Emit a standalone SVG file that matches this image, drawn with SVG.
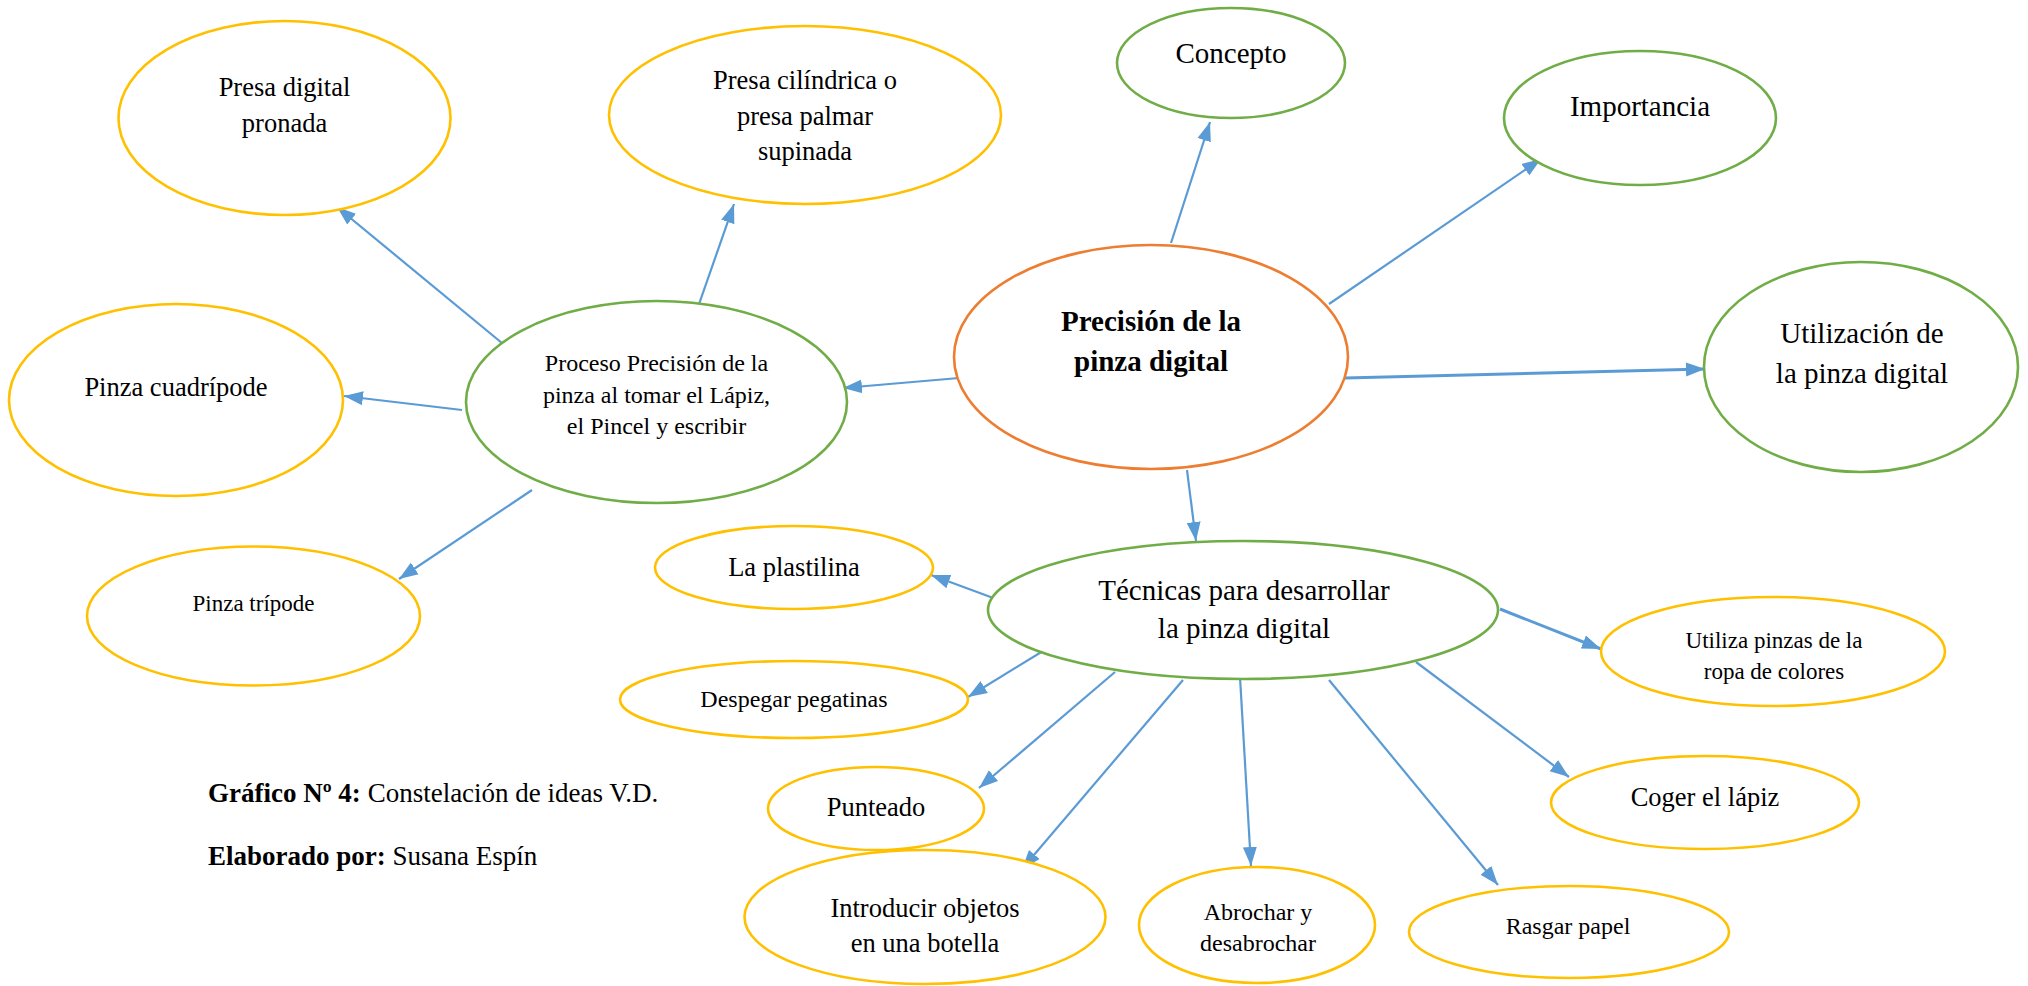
<svg xmlns="http://www.w3.org/2000/svg" width="2028" height="986" viewBox="0 0 2028 986">
<style>
text{font-family:"Liberation Serif","Times New Roman",serif;fill:#000;text-anchor:middle;dominant-baseline:central}
.y{fill:#fff;stroke:#FFC000;stroke-width:2.6}
.g{fill:#fff;stroke:#70AD47;stroke-width:2.6}
.o{fill:#fff;stroke:#ED7D31;stroke-width:2.6}
.c line{stroke:#5B9BD5;stroke-width:2.2;marker-end:url(#ah)}
.l{font-size:29px}.m{font-size:26.5px}.s{font-size:24px}.xs{font-size:23px}
</style>
<defs>
<marker id="ah" markerUnits="userSpaceOnUse" markerWidth="20" markerHeight="16" viewBox="0 0 20 16" refX="19" refY="8" orient="auto">
<path d="M0,1 L19,8 L0,15 z" fill="#5B9BD5"/>
</marker>
</defs>
<rect width="2028" height="986" fill="#fff"/>
<g class="c" id="connectors">
<line x1="508" y1="348" x2="337" y2="207"/>
<line x1="698" y1="307" x2="734" y2="204"/>
<line x1="462" y1="410" x2="344" y2="396"/>
<line x1="532" y1="490" x2="399" y2="579"/>
<line x1="959" y1="378" x2="843" y2="388"/>
<line x1="1171" y1="243" x2="1210" y2="122"/>
<line x1="1329" y1="304" x2="1541" y2="159"/>
<line x1="1345" y1="378" x2="1705" y2="369" style="stroke-width:3"/>
<line x1="1187" y1="470" x2="1196" y2="541"/>
<line x1="996" y1="599" x2="931" y2="575"/>
<line x1="1043" y1="651" x2="968" y2="697"/>
<line x1="1115" y1="672" x2="979" y2="788"/>
<line x1="1183" y1="680" x2="1022" y2="869"/>
<line x1="1240" y1="677" x2="1251" y2="866"/>
<line x1="1329" y1="680" x2="1498" y2="885"/>
<line x1="1416" y1="662" x2="1569" y2="777"/>
<line x1="1500" y1="609" x2="1601" y2="649" style="stroke-width:3"/>
</g>
<g id="presa-digital"><ellipse class="y" cx="284.5" cy="118" rx="166" ry="97"/><text class="m" x="284.5" y="87">Presa digital</text><text class="m" x="284.5" y="123">pronada</text></g>
<g id="presa-cilindrica"><ellipse class="y" cx="805" cy="115" rx="196" ry="89"/><text class="m" x="805" y="80">Presa cilíndrica o</text><text class="m" x="805" y="116">presa palmar</text><text class="m" x="805" y="151">supinada</text></g>
<g id="pinza-cuadripode"><ellipse class="y" cx="176" cy="400" rx="167" ry="96"/><text class="m" x="176" y="387">Pinza cuadrípode</text></g>
<g id="proceso"><ellipse class="g" cx="656.5" cy="402" rx="190.5" ry="101"/><text class="s" x="656.5" y="363">Proceso Precisión de la</text><text class="s" x="656.5" y="395">pinza al tomar el Lápiz,</text><text class="s" x="656.5" y="426">el Pincel y escribir</text></g>
<g id="pinza-tripode"><ellipse class="y" cx="253.5" cy="616" rx="166.5" ry="69.5"/><text class="xs" x="253.5" y="603">Pinza trípode</text></g>
<g id="central"><ellipse class="o" cx="1151" cy="357" rx="197" ry="112"/><text class="l" x="1151" y="321" font-weight="bold">Precisión de la</text><text class="l" x="1151" y="361" font-weight="bold">pinza digital</text></g>
<g id="concepto"><ellipse class="g" cx="1231" cy="63" rx="114" ry="55"/><text class="l" x="1231" y="53">Concepto</text></g>
<g id="importancia"><ellipse class="g" cx="1640" cy="118" rx="136" ry="67"/><text class="l" x="1640" y="106">Importancia</text></g>
<g id="utilizacion"><ellipse class="g" cx="1861" cy="367" rx="157" ry="105"/><text class="l" x="1862" y="333">Utilización de</text><text class="l" x="1862" y="373">la pinza digital</text></g>
<g id="tecnicas"><ellipse class="g" cx="1243" cy="610" rx="255" ry="69"/><text class="l" x="1244" y="590">Técnicas para desarrollar</text><text class="l" x="1244" y="628">la pinza digital</text></g>
<g id="plastilina"><ellipse class="y" cx="794" cy="567.5" rx="139" ry="41.5"/><text class="m" x="794" y="567">La plastilina</text></g>
<g id="despegar"><ellipse class="y" cx="794" cy="699.5" rx="174" ry="38.5"/><text class="s" x="794" y="699">Despegar pegatinas</text></g>
<g id="punteado"><ellipse class="y" cx="876" cy="808.5" rx="108" ry="41.5"/><text class="m" x="876" y="807">Punteado</text></g>
<g id="introducir"><ellipse class="y" cx="925" cy="917" rx="180.5" ry="67"/><text class="m" x="925" y="908">Introducir objetos</text><text class="m" x="925" y="943">en una botella</text></g>
<g id="abrochar"><ellipse class="y" cx="1257" cy="925" rx="118" ry="58"/><text class="s" x="1258" y="912">Abrochar y</text><text class="s" x="1258" y="943">desabrochar</text></g>
<g id="rasgar"><ellipse class="y" cx="1569" cy="932" rx="160" ry="46"/><text class="s" x="1568" y="926">Rasgar papel</text></g>
<g id="coger"><ellipse class="y" cx="1705" cy="802.5" rx="154" ry="46.5"/><text class="m" x="1705" y="797">Coger el lápiz</text></g>
<g id="utiliza-pinzas"><ellipse class="y" cx="1773" cy="651.5" rx="172" ry="54.5"/><text class="xs" x="1774" y="640">Utiliza pinzas de la</text><text class="xs" x="1774" y="671">ropa de colores</text></g>
<g id="caption">
<text style="font-size:27px;text-anchor:start" x="208" y="793"><tspan font-weight="bold">Gráfico Nº 4:</tspan> Constelación de ideas V.D.</text>
<text style="font-size:27px;text-anchor:start" x="208" y="856"><tspan font-weight="bold">Elaborado por:</tspan> Susana Espín</text>
</g>
</svg>
